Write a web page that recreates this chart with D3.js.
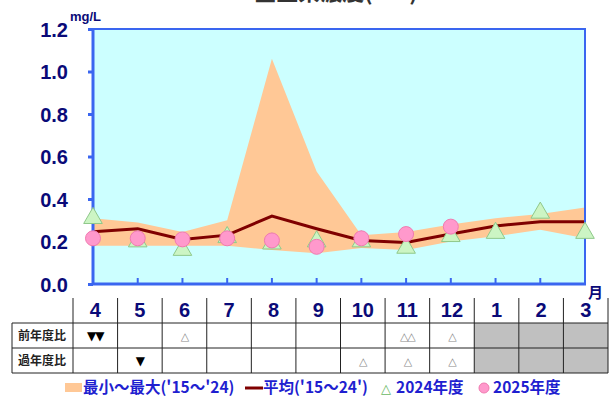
<!DOCTYPE html>
<html lang="ja">
<head>
<meta charset="UTF-8">
<title>月別濃度</title>
<script src="https://d3js.org/d3.v7.min.js"></script>
<style>
  body { margin: 0; background: #fff; }
  svg { display: block; }
</style>
</head>
<body>
<div id="chart"></div>
<script>
// data
const months = ["4", "5", "6", "7", "8", "9", "10", "11", "12", "1", "2", "3"];
const bandMax = [0.31, 0.29, 0.245, 0.30, 1.06, 0.53, 0.23, 0.245, 0.28, 0.31, 0.33, 0.36];
const bandMin = [0.18, 0.18, 0.18, 0.18, 0.16, 0.145, 0.17, 0.16, 0.20, 0.225, 0.255, 0.215];
const avg = [0.246, 0.26, 0.21, 0.23, 0.32, 0.26, 0.205, 0.195, 0.235, 0.273, 0.293, 0.293];
const fy2024 = [0.31, 0.20, 0.16, 0.22, 0.19, 0.20, 0.20, 0.17, 0.225, 0.24, 0.335, 0.24];
const fy2025 = [0.215, 0.215, 0.21, 0.215, 0.205, 0.175, 0.215, 0.235, 0.27, null, null, null];
const yTicks = [0, 0.2, 0.4, 0.6, 0.8, 1.0, 1.2];
const rowLabels = ["前年度比", "過年度比"];
const prevYear = ["▼▼", "", "△", "", "", "", "", "△△", "△", "", "", ""];
const pastYears = ["", "▼", "", "", "", "", "△", "△", "△", "", "", ""];
const reported = 9; // months 4..12 have data, the rest are greyed

const width = 609, height = 400;
const plot = { left: 93, right: 585, top: 29, bottom: 284 };
const navy = "#0a0a78";

const svg = d3.select("#chart").append("svg")
    .attr("width", width)
    .attr("height", height)
    .style("font-family", "'Liberation Sans', Arial, sans-serif");

const x = d3.scalePoint().domain(d3.range(months.length)).range([plot.left, plot.right]);
const y = d3.scaleLinear().domain([0, 1.2]).range([plot.bottom, plot.top]);
const col = d3.scaleBand().domain(d3.range(months.length)).range([73, 608]);

// title (cut off at the top of the picture, as in the original)
svg.append("text")
    .attr("x", 336).attr("y", 0)
    .attr("text-anchor", "middle")
    .style("font-family", "'Noto Sans CJK JP', sans-serif")
    .style("font-size", "22px").style("font-weight", "bold")
    .attr("fill", "#333")
    .text("全窒素濃度(T-N)");

// plot background
svg.append("rect")
    .attr("x", plot.left).attr("y", plot.top)
    .attr("width", plot.right - plot.left).attr("height", plot.bottom - plot.top)
    .attr("fill", "#ccffff");

// min-max band
const area = d3.area()
    .x((d, i) => x(i))
    .y0((d, i) => y(bandMin[i]))
    .y1(d => y(d));
svg.append("path")
    .datum(bandMax)
    .attr("d", area)
    .attr("fill", "#ffc896");

// average line
const line = d3.line().x((d, i) => x(i)).y(d => y(d));
svg.append("path")
    .datum(avg)
    .attr("d", line)
    .attr("fill", "none")
    .attr("stroke", "#7f0000")
    .attr("stroke-width", 3);

// frame
svg.append("rect")
    .attr("x", plot.left).attr("y", plot.top)
    .attr("width", plot.right - plot.left).attr("height", plot.bottom - plot.top)
    .attr("fill", "none")
    .attr("stroke", "#3a66f0")
    .attr("stroke-width", 2);
svg.append("line")
    .attr("x1", plot.left).attr("x2", plot.left)
    .attr("y1", plot.top).attr("y2", plot.bottom + 1)
    .attr("stroke", "#3a66f0").attr("stroke-width", 3);
svg.append("line")
    .attr("x1", plot.left).attr("x2", plot.right + 1)
    .attr("y1", plot.bottom).attr("y2", plot.bottom)
    .attr("stroke", "#3a66f0").attr("stroke-width", 3);

// y axis
const yAxis = svg.append("g")
    .attr("transform", `translate(${plot.left},0)`)
    .call(d3.axisLeft(y).tickValues(yTicks).tickFormat(d3.format(".1f")).tickSize(5).tickPadding(20));
yAxis.select(".domain").remove();
yAxis.selectAll(".tick line").attr("stroke", "#3a66f0").attr("stroke-width", 3);
yAxis.selectAll(".tick text")
    .attr("fill", navy)
    .style("font-size", "20px").style("font-weight", "bold")
    .attr("dy", "0.36em");

// x ticks inside
svg.append("g")
    .selectAll("line")
    .data(d3.range(1, months.length - 1))
    .join("line")
    .attr("x1", i => x(i)).attr("x2", i => x(i))
    .attr("y1", plot.bottom).attr("y2", plot.bottom - 6)
    .attr("stroke", "#3a66f0").attr("stroke-width", 2);

svg.append("text")
    .attr("x", 70).attr("y", 21)
    .attr("fill", navy)
    .style("font-size", "13px").style("font-weight", "bold")
    .text("mg/L");
svg.append("text")
    .attr("x", 588).attr("y", 298)
    .attr("fill", navy)
    .style("font-family", "'Noto Sans CJK JP', sans-serif")
    .style("font-size", "15px").style("font-weight", "bold")
    .text("月");

// 2024 triangles
const tri = d3.symbol().type(d3.symbolTriangle).size(150);
svg.append("g")
    .selectAll("path")
    .data(fy2024)
    .join("path")
    .attr("transform", (d, i) => `translate(${x(i)},${y(d)})`)
    .attr("d", tri)
    .attr("fill", "#ccf5c4")
    .attr("stroke", "#8fc88a")
    .attr("stroke-width", 1);

// 2025 circles
svg.append("g")
    .selectAll("circle")
    .data(fy2025.map((v, i) => ({ v, i })).filter(d => d.v != null))
    .join("circle")
    .attr("cx", d => x(d.i)).attr("cy", d => y(d.v))
    .attr("r", 7.5)
    .attr("fill", "#ff99cc")
    .attr("stroke", "#f07ab0")
    .attr("stroke-width", 1);

// table
const rowTop = 323, rowH = 25, monthTop = 298;
const table = svg.append("g");

table.selectAll("rect.grey")
    .data(d3.range(reported, months.length))
    .join("rect")
    .attr("class", "grey")
    .attr("x", i => col(i)).attr("y", rowTop)
    .attr("width", col.bandwidth()).attr("height", rowH * 2)
    .attr("fill", "#c0c0c0");

table.selectAll("text.month")
    .data(months)
    .join("text")
    .attr("class", "month")
    .attr("x", (d, i) => col(i) + col.bandwidth() / 2)
    .attr("y", 317)
    .attr("text-anchor", "middle")
    .attr("fill", navy)
    .style("font-size", "20px").style("font-weight", "bold")
    .text(d => d);

// vertical lines
const vx = [73].concat(d3.range(months.length).map(i => col(i) + col.bandwidth()));
table.selectAll("line.v")
    .data(vx)
    .join("line")
    .attr("x1", d => d).attr("x2", d => d)
    .attr("y1", monthTop).attr("y2", rowTop + rowH * 2)
    .attr("stroke", "#222").attr("stroke-width", 1);
table.append("line")
    .attr("x1", 12).attr("x2", 12)
    .attr("y1", rowTop).attr("y2", rowTop + rowH * 2)
    .attr("stroke", "#222");
table.selectAll("line.h")
    .data([0, 1, 2])
    .join("line")
    .attr("x1", 12).attr("x2", 608)
    .attr("y1", r => rowTop + r * rowH).attr("y2", r => rowTop + r * rowH)
    .attr("stroke", "#222");

table.selectAll("text.rowlab")
    .data(rowLabels)
    .join("text")
    .attr("class", "rowlab")
    .attr("x", 42).attr("y", (d, r) => rowTop + r * rowH + 17)
    .attr("text-anchor", "middle")
    .style("font-family", "'Noto Sans CJK JP', sans-serif")
    .style("font-size", "12px").style("font-weight", "bold")
    .attr("fill", "#222")
    .text(d => d);

[prevYear, pastYears].forEach((row, r) => {
    table.append("g")
        .selectAll("text")
        .data(row)
        .join("text")
        .attr("x", (d, i) => col(i) + col.bandwidth() / 2)
        .attr("y", rowTop + r * rowH + 17)
        .attr("text-anchor", "middle")
        .style("font-family", "'DejaVu Sans', sans-serif")
        .style("font-size", d => d.includes("▼") ? "12px" : "11px")
        .attr("letter-spacing", "-1px")
        .attr("fill", d => d.includes("▼") ? "#000" : "#888")
        .text(d => d);
});

// legend
const legendY = 388;
const lg = svg.append("g")
    .style("font-family", "'Noto Sans CJK JP', sans-serif")
    .style("font-size", "15.5px").style("font-weight", "bold");
lg.append("rect").attr("x", 65).attr("y", legendY - 5).attr("width", 17).attr("height", 9).attr("fill", "#ffc896");
lg.append("text").attr("x", 83).attr("y", legendY + 5).attr("fill", "#1f1fd0").text("最小～最大('15～'24)");
lg.append("line").attr("x1", 245).attr("x2", 263).attr("y1", legendY).attr("y2", legendY)
    .attr("stroke", "#7f0000").attr("stroke-width", 3);
lg.append("text").attr("x", 263).attr("y", legendY + 5).attr("fill", "#1f1fd0").text("平均('15～24')");
lg.append("text").attr("x", 381).attr("y", legendY + 5).attr("fill", "#6ab865")
    .style("font-family", "'DejaVu Sans', sans-serif").style("font-weight", "normal").style("font-size", "13px").text("△");
lg.append("text").attr("x", 396).attr("y", legendY + 5).attr("fill", "#1f1fd0").text("2024年度");
lg.append("circle").attr("cx", 484).attr("cy", legendY).attr("r", 5).attr("fill", "#ff99cc").attr("stroke", "#f07ab0");
lg.append("text").attr("x", 493).attr("y", legendY + 5).attr("fill", "#1f1fd0").text("2025年度");
</script>
</body>
</html>
